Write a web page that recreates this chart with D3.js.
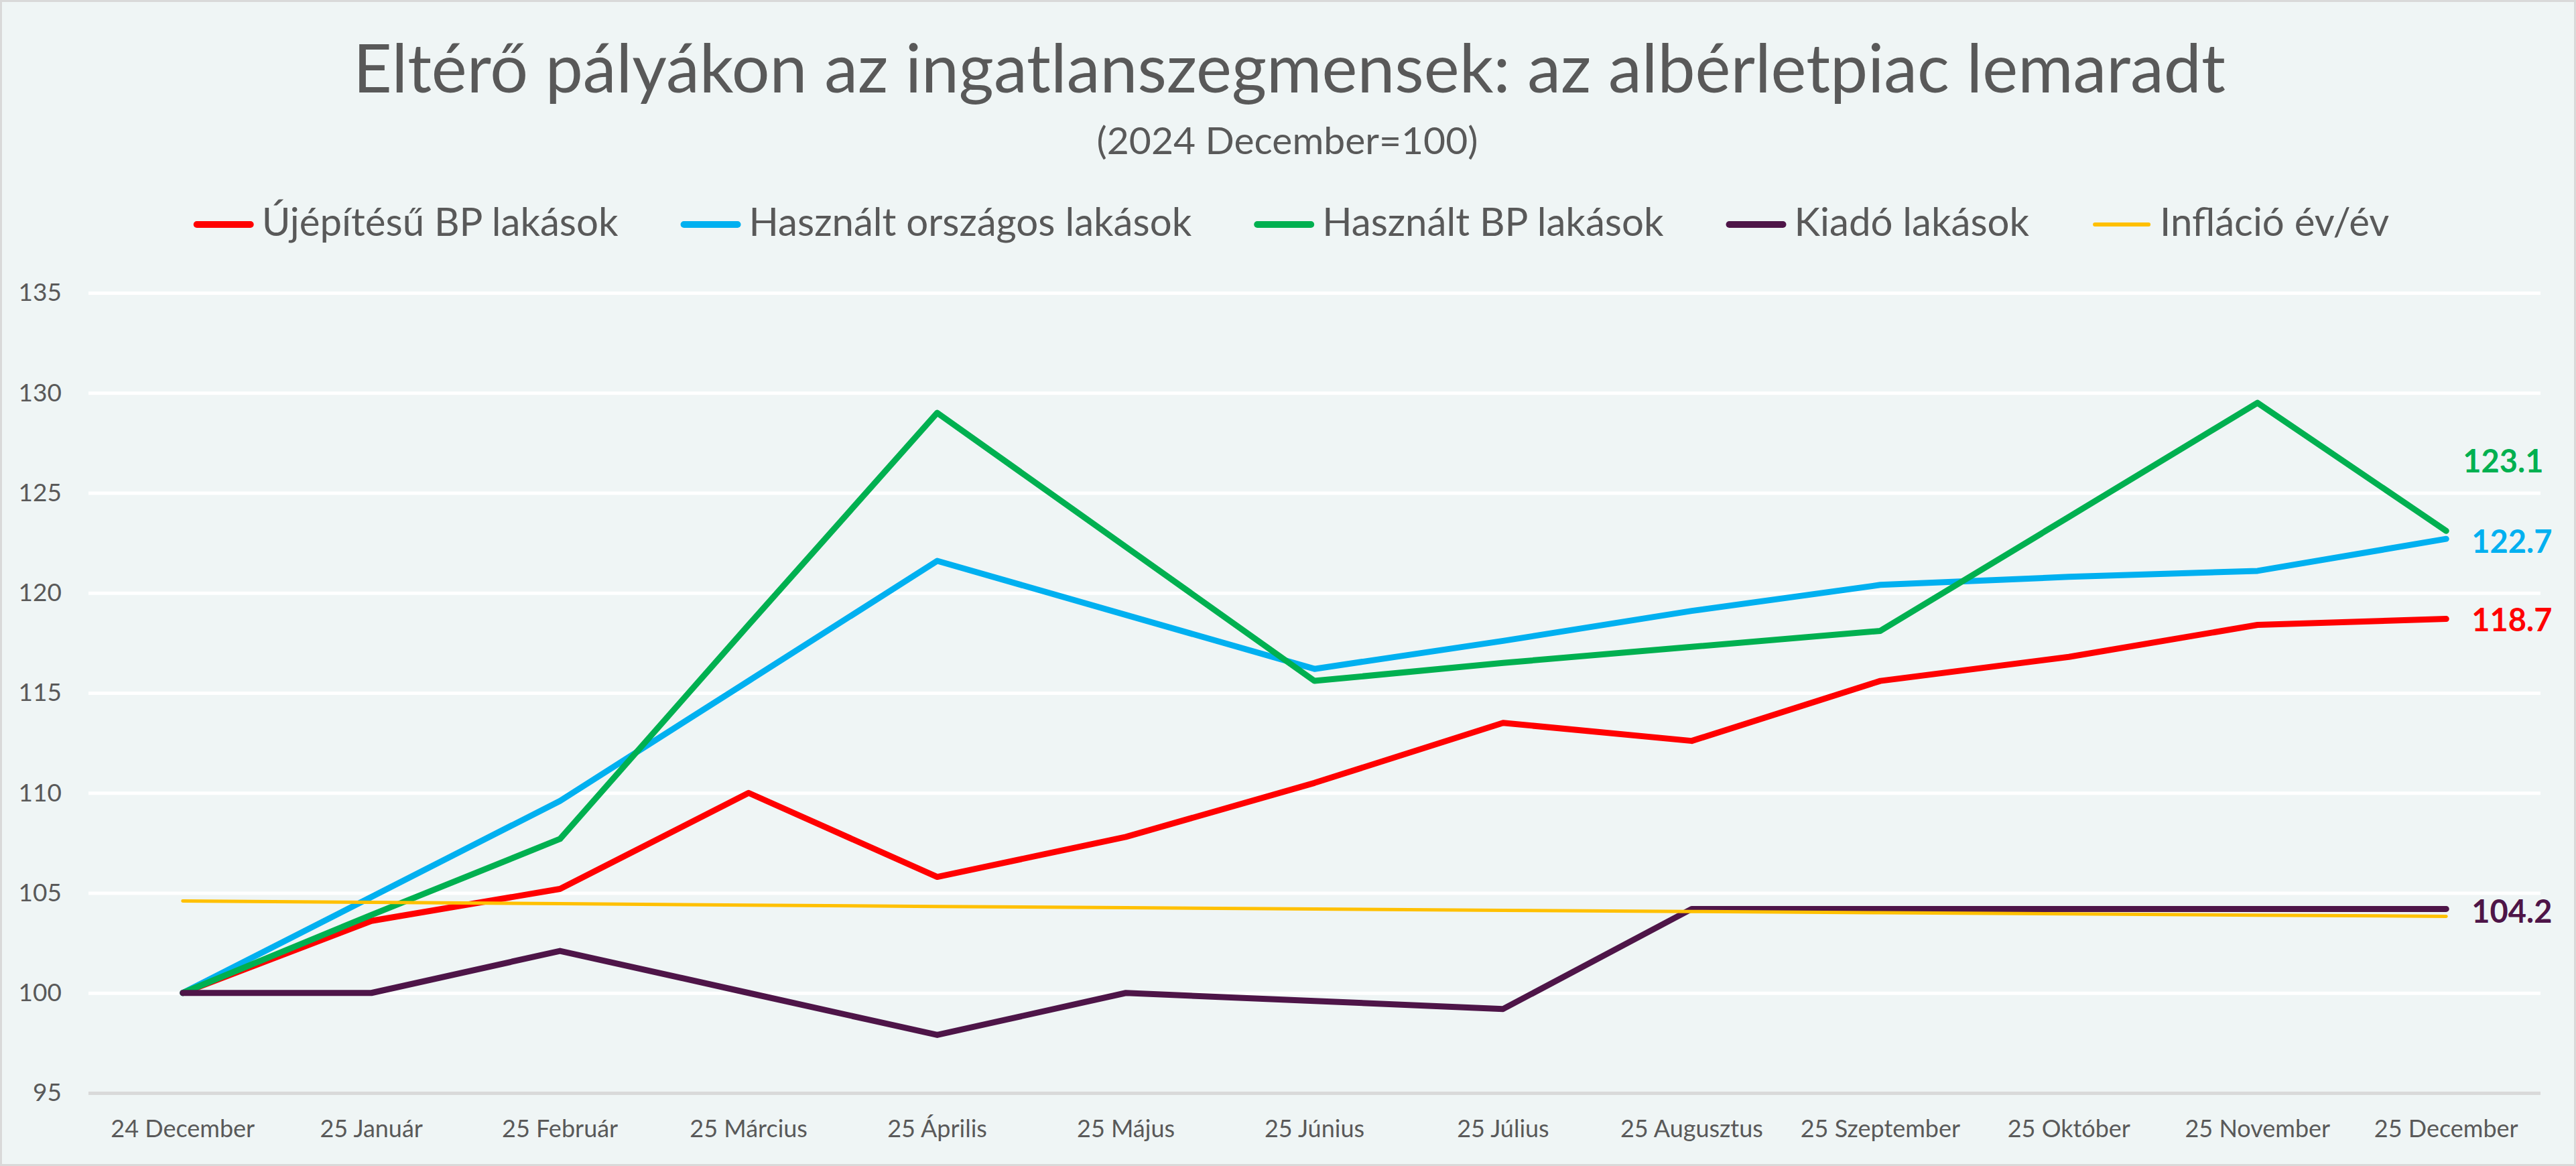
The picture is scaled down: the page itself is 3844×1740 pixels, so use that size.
<!DOCTYPE html>
<html>
<head>
<meta charset="utf-8">
<script src="https://cdn.jsdelivr.net/npm/d3@7"></script>
<style>
  html, body { margin: 0; padding: 0; background: #ffffff; }
  svg text { font-family: Lato, "Open Sans", sans-serif; }
</style>
</head>
<body>
<div id="chart"></div>
<script>
// Index chart of housing segments (2024 December = 100)
const months = ["24 December", "25 Január", "25 Február", "25 Március", "25 Április", "25 Május",
  "25 Június", "25 Július", "25 Augusztus", "25 Szeptember", "25 Október", "25 November", "25 December"];

const ujepitesuBP = [100, 103.6, 105.2, 110.0, 105.8, 107.8, 110.5, 113.5, 112.6, 115.6, 116.8, 118.4, 118.7];
const hasznaltOrszagos = [100, 104.8, 109.6, 115.6, 121.6, 118.9, 116.2, 117.6, 119.1, 120.4, 120.8, 121.1, 122.7];
const hasznaltBP = [100, 103.9, 107.7, 118.4, 129.0, 122.3, 115.6, 116.5, 117.3, 118.1, 123.8, 129.5, 123.1];
const kiado = [100, 100, 102.1, 100.0, 97.9, 100.0, 99.6, 99.2, 104.2, 104.2, 104.2, 104.2, 104.2];
const inflacio = [104.6, 104.53, 104.46, 104.39, 104.32, 104.26, 104.2, 104.13, 104.07, 104.01, 103.95, 103.89, 103.83];

const seriesNames = ["Újépítésű BP lakások", "Használt országos lakások", "Használt BP lakások", "Kiadó lakások", "Infláció év/év"];
const yTicks = [95, 100, 105, 110, 115, 120, 125, 130, 135];

const title = "Eltérő pályákon az ingatlanszegmensek: az albérletpiac lemaradt";
const subtitle = "(2024 December=100)";

// styles
const colors = ["#ff0000", "#00b0f0", "#00b050", "#4e1548", "#ffc000"];
const widths = [9, 9, 9, 9, 5];
const showEndLabel = [true, true, true, true, false];
const labelShift = [{ dx: 38, dy: 2 }, { dx: 38, dy: 4 }, { dx: 25, dy: -104 }, { dx: 38, dy: 4 }, { dx: 0, dy: 0 }];

const series = [ujepitesuBP, hasznaltOrszagos, hasznaltBP, kiado, inflacio].map((values, i) => ({
  name: seriesNames[i],
  color: colors[i],
  width: widths[i],
  label: showEndLabel[i],
  shift: labelShift[i],
  values: values.map((v, j) => ({ month: months[j], value: v }))
}));

// dimensions
const W = 3844, H = 1740;
const plot = { left: 132, right: 3791, top: 437, bottom: 1631 };
const textColor = "#595959";

const svg = d3.select("#chart")
  .append("svg")
  .attr("width", W)
  .attr("height", H);

// background + border
svg.append("rect")
  .attr("x", 1.5).attr("y", 1.5)
  .attr("width", W - 3).attr("height", H - 3)
  .attr("fill", "#eff5f5")
  .attr("stroke", "#d9d9d9")
  .attr("stroke-width", 3);

// fit a text element to a target width
function fit(sel, target) {
  const w = sel.node().getComputedTextLength();
  const fs = parseFloat(sel.attr("font-size"));
  sel.attr("font-size", fs * target / w);
}

// title
const t = svg.append("text")
  .attr("x", 1924).attr("y", 138)
  .attr("text-anchor", "middle")
  .attr("font-size", 100)
  .attr("fill", textColor)
  .text(title);
fit(t, 2794);

const st = svg.append("text")
  .attr("x", 1921).attr("y", 230)
  .attr("text-anchor", "middle")
  .attr("font-size", 55)
  .attr("fill", textColor)
  .text(subtitle);
fit(st, 569);

// scales
const xScale = d3.scaleBand()
  .domain(months)
  .range([plot.left, plot.right])
  .padding(0);

const xPos = (m) => xScale(m) + xScale.bandwidth() / 2;

const yScale = d3.scaleLinear()
  .domain([95, 135])
  .range([plot.bottom, plot.top]);

// y axis with gridlines
const yAxis = svg.append("g")
  .attr("transform", `translate(${plot.left},0)`)
  .call(d3.axisLeft(yScale)
    .tickValues(yTicks)
    .tickSize(-(plot.right - plot.left))
    .tickPadding(40));
yAxis.select(".domain").remove();
yAxis.selectAll(".tick line")
  .attr("stroke", (d) => (d === 95 ? "#d9d9d9" : "#ffffff"))
  .attr("stroke-width", 5);
yAxis.selectAll(".tick text")
  .attr("font-size", 37)
  .attr("font-family", "Lato, sans-serif")
  .attr("fill", textColor);

// x axis
const xAxis = svg.append("g")
  .attr("transform", `translate(0,${plot.bottom})`)
  .call(d3.axisBottom(xScale).tickSize(0).tickPadding(40));
xAxis.select(".domain").remove();
xAxis.selectAll(".tick text")
  .attr("font-size", 36)
  .attr("font-family", "Lato, sans-serif")
  .attr("fill", textColor);

// lines
const line = d3.line()
  .x((d) => xPos(d.month))
  .y((d) => yScale(d.value));

svg.append("g")
  .selectAll("path")
  .data(series)
  .enter()
  .append("path")
  .attr("d", (d) => line(d.values))
  .attr("fill", "none")
  .attr("stroke", (d) => d.color)
  .attr("stroke-width", (d) => d.width)
  .attr("stroke-linecap", "round")
  .attr("stroke-linejoin", "round");

// end labels
svg.append("g")
  .selectAll("text")
  .data(series.filter((d) => d.label))
  .enter()
  .append("text")
  .attr("x", (d) => xPos(months[months.length - 1]) + d.shift.dx)
  .attr("y", (d) => yScale(d.values[d.values.length - 1].value) + d.shift.dy)
  .attr("dy", "0.36em")
  .attr("font-family", "'Liberation Sans', Arial, sans-serif")
  .attr("font-weight", "bold")
  .attr("font-size", 47)
  .attr("fill", (d) => d.color)
  .text((d) => d.values[d.values.length - 1].value.toFixed(1));

// legend
const legend = svg.append("g");
const swatchW = 90, swatchGap = 12, itemGap = 93;
const items = legend.selectAll("g")
  .data(series)
  .enter()
  .append("g");
items.append("line")
  .attr("x1", 5).attr("x2", swatchW - 5)
  .attr("y1", 0).attr("y2", 0)
  .attr("stroke", (d) => d.color)
  .attr("stroke-width", (d) => (d.width < 9 ? 6 : 10))
  .attr("stroke-linecap", "round");
const legendText = items.append("text")
  .attr("x", swatchW + swatchGap)
  .attr("y", 17)
  .attr("font-size", 56)
  .attr("fill", textColor)
  .text((d) => d.name);

// fit legend text size to overall legend width, then lay out items
const targetLegend = 3277;
let textSum = 0;
legendText.each(function () { textSum += this.getComputedTextLength(); });
const fixedPart = series.length * (swatchW + swatchGap) + (series.length - 1) * itemGap;
legendText.attr("font-size", 56 * (targetLegend - fixedPart) / textSum);

let cursor = 0;
items.each(function () {
  const g = d3.select(this);
  g.attr("transform", `translate(${cursor},0)`);
  cursor += swatchW + swatchGap + g.select("text").node().getComputedTextLength() + itemGap;
});
const legendWidth = cursor - itemGap;
legend.attr("transform", `translate(${1927 - legendWidth / 2},335)`);
</script>
</body>
</html>
